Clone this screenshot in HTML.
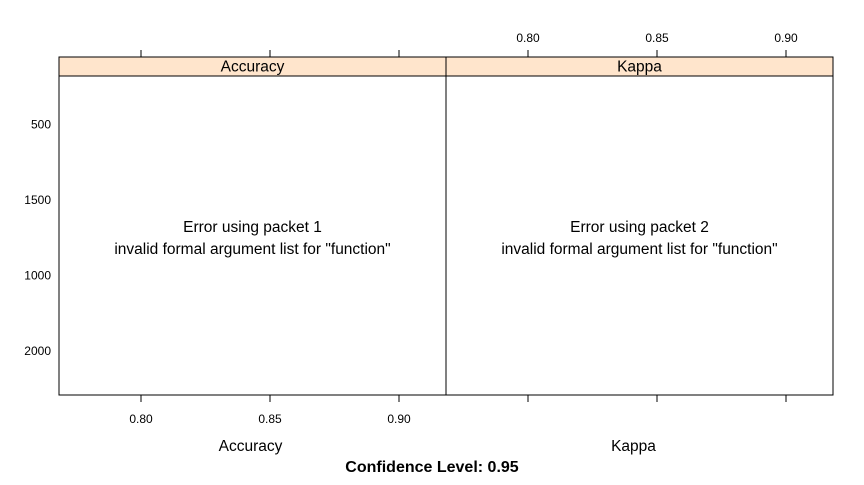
<!DOCTYPE html>
<html><head><meta charset="utf-8"><style>
body{margin:0;background:#fff;width:864px;height:480px;overflow:hidden}
svg{font-family:"Liberation Sans",Arial,sans-serif}
</style></head><body>
<svg id="c" width="864" height="480">
<rect x="0" y="0" width="864" height="480" fill="#fff"/>
</svg>
<script>
const panels=["Accuracy","Kappa"];
const xTicks=[0.80,0.85,0.90];
const xTickLabels=["0.80","0.85","0.90"];
const yLabels=["500","1500","1000","2000"];
const errors=["Error using packet 1","Error using packet 2"];
const NS="http://www.w3.org/2000/svg";
const svg=document.getElementById('c');
function mk(t,a,txt){const e=document.createElementNS(NS,t);for(const k in a)e.setAttribute(k,a[k]);if(txt!==undefined)e.textContent=txt;svg.appendChild(e);return e;}
const L=59,W=387,T=57,S=19,B=395;
function xs(v,p){return L+p*W+82+(v-0.80)/0.05*129;}
function ys(i){return 124+i*75.5;}
panels.forEach((p,i)=>{
  const x0=L+i*W;
  const st=mk('rect',{x:x0,y:T,width:W,height:S,fill:'#ffe5cc',stroke:'#000','stroke-width':1});
  
  
  const stt=mk('text',{x:x0+W/2,y:T+14.5,'text-anchor':'middle','font-size':15.5},p);
  
  
  const pr=mk('rect',{x:x0,y:T+S,width:W,height:B-T-S,fill:'none',stroke:'#000','stroke-width':1});
  
  
  const e1=mk('text',{x:x0+W/2,y:232,'text-anchor':'middle','font-size':15.5},errors[i]);
  
  
  const e2=mk('text',{x:x0+W/2,y:254,'text-anchor':'middle','font-size':15.5},'invalid formal argument list for "function"');
  
  
  xTicks.forEach((v,j)=>{
    const x=xs(v,i);
    const tt=mk('line',{x1:x,x2:x,y1:T-7,y2:T,stroke:'#000'});
    
    
    const bt=mk('line',{x1:x,x2:x,y1:B,y2:B+7,stroke:'#000'});
    
    
    if(i===0){
      const lb=mk('text',{x:x,y:423,'text-anchor':'middle','font-size':12},xTickLabels[j]);
      
      
    }else{
      const lb=mk('text',{x:x,y:42,'text-anchor':'middle','font-size':12},xTickLabels[j]);
      
      
    }
  });
  const xt=mk('text',{x:x0+W/2+(i?-6:-2),y:451,'text-anchor':'middle','font-size':15.5},p);
  
  
});
yLabels.forEach((l,i)=>{
  const t=mk('text',{x:51,y:ys(i)+4.5,'text-anchor':'end','font-size':12},l);
  
  
});
const cap=mk('text',{x:432,y:472,'text-anchor':'middle','font-size':16,'font-weight':'bold'},'Confidence Level: 0.95');


</script>
</body></html>
